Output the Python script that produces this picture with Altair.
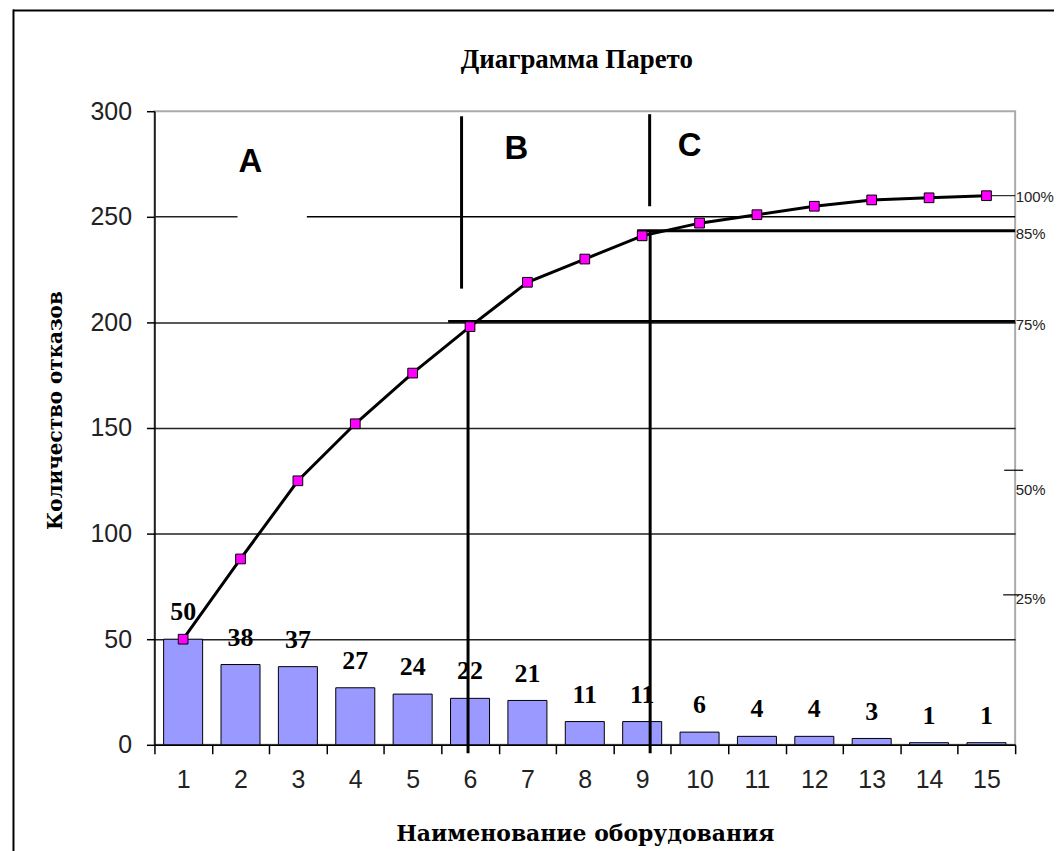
import altair as alt
import pandas as pd

# ---- data ----
categories = ["1", "2", "3", "4", "5", "6", "7", "8", "9", "10", "11", "12", "13", "14", "15"]
failures = [50, 38, 37, 27, 24, 22, 21, 11, 11, 6, 4, 4, 3, 1, 1]
cumulative = [50, 88, 125, 152, 176, 198, 219, 230, 241, 247, 251, 255, 258, 259, 260]
y_ticks = [0, 50, 100, 150, 200, 250, 300]

zone_letters = ["A", "B", "C"]
zone_categories = ["2", "7", "10"]
zone_levels = [276, 282, 283.5]

pct_labels = ["100%", "85%", "75%", "50%", "25%"]
pct_levels = [259.4, 241.7, 198.6, 120.6, 68.9]

title_text = "Диаграмма Парето"
x_title = "Наименование оборудования"
y_title = "Количество отказов"

W, H = 864, 636

bar_df = pd.DataFrame({"cat": categories, "value": failures})
cum_df = pd.DataFrame({"cat": categories, "value": cumulative})

x_scale = alt.Scale(domain=categories, paddingInner=0, paddingOuter=0)
y_scale = alt.Scale(domain=[0, 300], nice=False, zero=False)

grid_color = {
    "condition": {"test": "datum.value === 250 || datum.value === 300", "value": "transparent"},
    "value": "#222",
}

x_axis = alt.Axis(
    labelAngle=0, labelFont="Liberation Sans", labelFontSize=25, labelColor="#222",
    labelPadding=14, tickBand="extent", tickSize=9, tickColor="#000", tickWidth=1.5,
    domainColor="#000", domainWidth=1.5, grid=False,
    titleFont="DejaVu Serif", titleFontSize=22, titleFontWeight="bold", titleColor="#000",
    titleX=W / 2, titleY=89, titleAlign="center", titleBaseline="middle",
)
y_axis = alt.Axis(
    values=y_ticks, labelFont="Liberation Sans", labelFontSize=25, labelColor="#222",
    labelPadding=15, tickSize=8, tickColor="#000", tickWidth=1.5,
    domainColor="#000", domainWidth=1.5, grid=True, gridColor=grid_color, gridWidth=1.5,
    titleFont="DejaVu Serif", titleFontSize=20, titleFontWeight="bold", titleColor="#000",
    titleX=-99, titleY=300, titleAngle=270, titleAlign="center", titleBaseline="middle",
)

X_main = alt.X("cat:N", sort=categories, scale=x_scale, axis=x_axis, title=x_title)
Y_main = alt.Y("value:Q", scale=y_scale, axis=y_axis, title=y_title)
Xc = alt.X("cat:N", sort=categories)
Yv = alt.Y("value:Q")

bars = alt.Chart(bar_df).mark_bar(
    width=alt.RelativeBandSize(0.68), color="#9999FF", stroke="#000", strokeWidth=1
).encode(x=X_main, y=Y_main)

bar_labels = alt.Chart(bar_df).mark_text(
    font="Liberation Serif", fontSize=26, fontWeight="bold", color="#000", dy=-27, baseline="middle"
).encode(x=Xc, y=Yv, text="value:Q")

cum_line = alt.Chart(cum_df).mark_line(color="#000", strokeWidth=3).encode(x=Xc, y=Yv)
cum_points = alt.Chart(cum_df).mark_square(
    size=95, color="#FF00FF", stroke="#000", strokeWidth=1, opacity=1
).encode(x=Xc, y=Yv)


def vrule(cat, top, bottom, offset, width=3):
    df = pd.DataFrame({"cat": [cat], "value": [top], "value2": [bottom]})
    return alt.Chart(df).mark_rule(color="#000", strokeWidth=width, xOffset=offset).encode(
        x=Xc, y=Yv, y2=alt.Y2("value2")
    )


def hrule_to_edge(cat, level, offset, width):
    df = pd.DataFrame({"cat": [cat], "value": [level]})
    return alt.Chart(df).mark_rule(color="#000", strokeWidth=width, xOffset=offset).encode(
        x=Xc, x2=alt.value("width"), y=Yv
    )


def hrule_from_start(cat, level, offset, width):
    df = pd.DataFrame({"cat": [cat], "value": [level]})
    return alt.Chart(df).mark_rule(color="#222", strokeWidth=width, xOffset=offset).encode(
        x=Xc, x2=alt.value(0), y=Yv
    )


def edge_tick(level, left, right):
    df = pd.DataFrame({"value": [level]})
    return alt.Chart(df).mark_rule(color="#000", strokeWidth=1.2, xOffset=left, x2Offset=right).encode(
        x=alt.value("width"), x2=alt.value("width"), y=Yv
    )


rules = [
    # boundaries between zones
    vrule("6", 200, -4, -2),
    vrule("6", 297.6, 216, -8.5),
    vrule("9", 243.4, -4, 8),
    vrule("9", 298.6, 255, 7.5),
    # 75 % and 85 % levels
    hrule_to_edge("6", 200.5, -22, 2.8),
    hrule_to_edge("9", 243.4, -5, 2.8),
    hrule_to_edge("15", 260, 0, 1),
    # broken 250 gridline
    hrule_from_start("2", 250, -3, 1.5),
    hrule_to_edge("3", 250, 9, 1.5),
    # small marks on the right edge
    edge_tick(130, -11, 8),
    edge_tick(71, -12, 4),
]

zone_layers = []
for letter, cat, lvl, dx in zip(zone_letters, zone_categories, zone_levels, [10, -11, -10]):
    df = pd.DataFrame({"cat": [cat], "value": [lvl], "label": [letter]})
    zone_layers.append(
        alt.Chart(df).mark_text(
            font="Liberation Sans", fontSize=33, fontWeight="bold", color="#000",
            dx=dx, baseline="middle", align="center",
        ).encode(x=Xc, y=Yv, text="label:N")
    )

pct_df = pd.DataFrame({"value": pct_levels, "label": pct_labels})
pct_text = alt.Chart(pct_df).mark_text(
    font="Liberation Sans", fontSize=15, color="#222", align="left", baseline="middle", dx=0.5
).encode(x=alt.value("width"), y=Yv, text="label:N")

title_df = pd.DataFrame({"label": [title_text]})
title_mark = alt.Chart(title_df).mark_text(
    font="Liberation Serif", fontSize=27, fontWeight="bold", color="#000",
    align="center", baseline="alphabetic",
).encode(x=alt.value(W / 2 - 8), y=alt.value(-43), text="label:N")

frame_df = pd.DataFrame({"k": [0]})
frame_left = alt.Chart(frame_df).mark_rule(color="#000", strokeWidth=2).encode(
    x=alt.value(-141.5), y=alt.value(-102), y2=alt.value(H + 120)
)
frame_top = alt.Chart(frame_df).mark_rule(color="#000", strokeWidth=2).encode(
    x=alt.value(-142), x2=alt.value(W + 60), y=alt.value(-101)
)

chart = alt.layer(
    bars, *rules, cum_line, cum_points, bar_labels, *zone_layers, pct_text,
    title_mark, frame_left, frame_top,
).properties(
    width=W,
    height=H,
    padding={"left": 147, "top": 102, "right": 39, "bottom": 105},
    autosize=alt.AutoSizeParams(type="none"),
    background="#ffffff",
).configure_view(stroke="#aaa", strokeWidth=2)

chart.save("out.html", embed_options={"renderer": "svg", "actions": False})
